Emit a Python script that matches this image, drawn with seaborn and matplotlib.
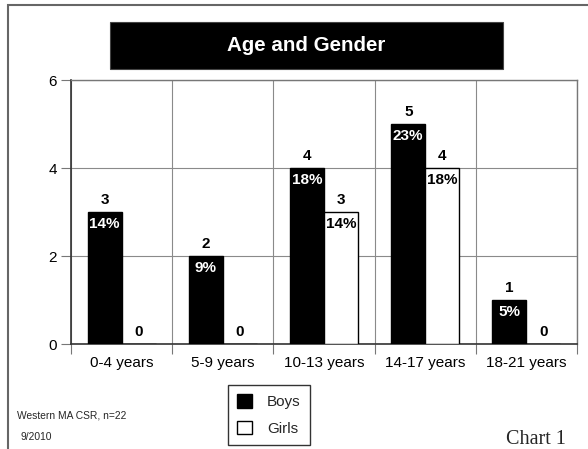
import matplotlib
matplotlib.use("Agg")
import matplotlib.pyplot as plt
from matplotlib.patches import Rectangle, Patch
import numpy as np
import pandas as pd
import seaborn as sns

# Survey counts by age group and gender
age_groups = ["0-4 years", "5-9 years", "10-13 years", "14-17 years", "18-21 years"]
boys = [3, 2, 4, 5, 1]
girls = [0, 0, 3, 4, 0]
total_n = 22
y_ticks = [0, 2, 4, 6]

sns.set_theme(style="white")
plt.rcParams["font.family"] = ["Liberation Sans", "DejaVu Sans"]

df = pd.DataFrame({
    "age": age_groups * 2,
    "count": boys + girls,
    "gender": ["Boys"] * len(boys) + ["Girls"] * len(girls),
})

W, H = 588, 449
fig = plt.figure(figsize=(W / 100, H / 100), dpi=100)
ax = fig.add_axes([71 / W, 1 - 344 / H, (577 - 71) / W, (344 - 80) / H])

palette = {"Boys": "black", "Girls": "white"}
sns.barplot(data=df, x="age", y="count", hue="gender", palette=palette,
            edgecolor="black", linewidth=1.0, width=0.67, saturation=1,
            ax=ax, legend=False, zorder=3)

ax.set_ylim(0, 6)
ax.set_xlim(-0.5, len(age_groups) - 0.5)
ax.set_yticks(y_ticks)
ax.set_xlabel("")
ax.set_ylabel("")

# grid: horizontal at the y ticks, vertical between age groups
ax.set_xticks(np.arange(-0.5, len(age_groups)), minor=True)
ax.grid(True, axis="y", color="#8a8a8a", linewidth=0.8, zorder=0)
ax.grid(True, axis="x", which="minor", color="#8a8a8a", linewidth=0.8, zorder=0)
ax.grid(False, axis="x", which="major")

ax.tick_params(axis="x", which="major", length=0, pad=9, labelsize=11, colors="black")
ax.tick_params(axis="x", which="minor", length=7, width=0.8, color="#777777", direction="out", bottom=True)
ax.tick_params(axis="y", length=7, width=0.8, color="#777777", direction="out", left=True,
               pad=3, labelsize=11, labelcolor="black")

for side in ["top", "right"]:
    ax.spines[side].set_color("#777777")
    ax.spines[side].set_linewidth(1.0)
for side in ["left", "bottom"]:
    ax.spines[side].set_color("#333333")
    ax.spines[side].set_linewidth(1.2)

# count above each bar, percentage of all respondents inside it
text_colors = ["white", "black"]
for cont, tc in zip(ax.containers, text_colors):
    for bar in cont:
        v = bar.get_height()
        xc = bar.get_x() + bar.get_width() / 2
        ax.annotate(f"{int(v)}", (xc, v), xytext=(0, 12), textcoords="offset pixels",
                    ha="center", va="center", fontsize=11, fontweight="bold",
                    color="black", zorder=5)
        if v > 0:
            pct = int(round(v / total_n * 100))
            ax.annotate(f"{pct}%", (xc, v), xytext=(0, -12), textcoords="offset pixels",
                        ha="center", va="center", fontsize=11, fontweight="bold",
                        color=tc, zorder=5)

# title banner
fig.patches.append(Rectangle((110 / W, 1 - 69 / H), (503 - 110) / W, (69 - 22) / H,
                             transform=fig.transFigure, facecolor="black",
                             edgecolor="#444444", linewidth=0.8, zorder=1))
fig.text(306 / W, 1 - 45.5 / H, "Age and Gender", ha="center", va="center",
         color="white", fontsize=14.8, fontweight="bold", zorder=2)

# page frame
fig.patches.append(Rectangle((8 / W, -0.2), 1.2, 1 - 5 / H + 0.2,
                             transform=fig.transFigure, fill=False,
                             edgecolor="#666666", linewidth=1.5, zorder=0))

# legend
handles = [Patch(facecolor="black", edgecolor="black", label="Boys"),
           Patch(facecolor="white", edgecolor="black", label="Girls")]
leg = fig.legend(handles=handles, loc="upper left",
                 bbox_to_anchor=(228 / W, 1 - 385 / H), fontsize=11,
                 frameon=True, fancybox=False, edgecolor="black",
                 handlelength=1.0, handleheight=1.0, handletextpad=0.95,
                 labelspacing=0.75, borderpad=0.6, borderaxespad=0)
leg.get_frame().set_linewidth(1.0)

fig.text(17 / W, 1 - 415 / H, "Western MA CSR, n=22", fontsize=7.4, va="center", ha="left")
fig.text(20 / W, 1 - 437 / H, "9/2010", fontsize=7.4, va="center", ha="left")
fig.text(566 / W, 1 - 439 / H, "Chart 1", fontsize=14.5, va="center", ha="right",
         family=["Liberation Serif", "DejaVu Serif"])

fig.savefig("out.png", dpi=100)
